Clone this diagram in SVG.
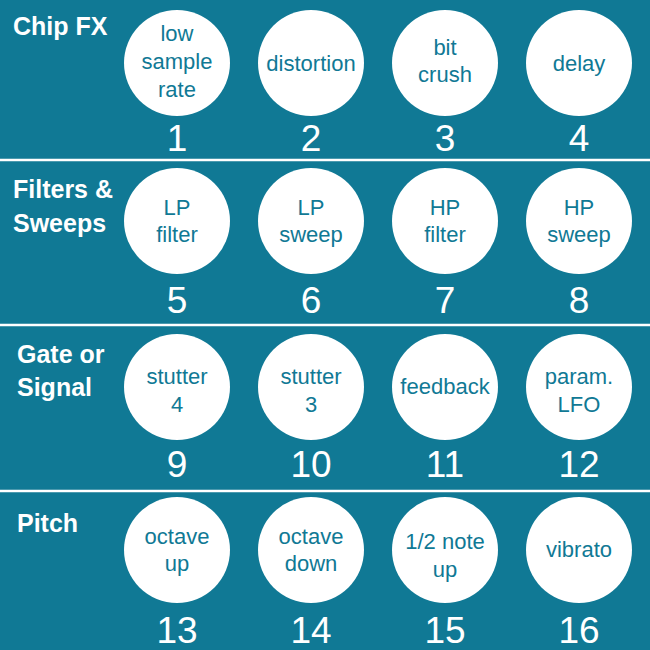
<svg xmlns="http://www.w3.org/2000/svg" width="650" height="650" viewBox="0 0 650 650">
<style>
.bg{fill:#107995}
.sep{stroke:#ffffff;stroke-width:2.5}
.c{fill:#ffffff}
.t{font-family:"Liberation Sans",Arial,sans-serif;font-size:22px;fill:#107995;text-anchor:middle}
.n{font-family:"Liberation Sans",Arial,sans-serif;font-size:37px;fill:#ffffff;text-anchor:middle}
.h{font-family:"Liberation Sans",Arial,sans-serif;font-size:25px;font-weight:bold;fill:#ffffff}
</style>
<rect class="bg" x="0" y="0" width="650" height="650"/>
<g id="separators">
<line class="sep" x1="0" y1="160" x2="650" y2="160"/>
<line class="sep" x1="0" y1="325" x2="650" y2="325"/>
<line class="sep" x1="0" y1="491" x2="650" y2="491"/>
</g>
<g id="headers">
<text class="h" x="13" y="35">Chip FX</text>
<text class="h" x="13" y="198">Filters &amp;</text>
<text class="h" x="13" y="232">Sweeps</text>
<text class="h" x="17" y="363">Gate or</text>
<text class="h" x="17" y="396">Signal</text>
<text class="h" x="17" y="532">Pitch</text>
</g>
<g id="n1"><circle class="c" cx="177" cy="63" r="53"/><text class="t" x="177" y="41">low</text><text class="t" x="177" y="69">sample</text><text class="t" x="177" y="97">rate</text><text class="n" x="177" y="151">1</text></g>
<g id="n2"><circle class="c" cx="311" cy="63" r="53"/><text class="t" x="311" y="71">distortion</text><text class="n" x="311" y="151">2</text></g>
<g id="n3"><circle class="c" cx="445" cy="63" r="53"/><text class="t" x="445" y="55">bit</text><text class="t" x="445" y="82">crush</text><text class="n" x="445" y="151">3</text></g>
<g id="n4"><circle class="c" cx="579" cy="63" r="53"/><text class="t" x="579" y="71">delay</text><text class="n" x="579" y="151">4</text></g>
<g id="n5"><circle class="c" cx="177" cy="221" r="53"/><text class="t" x="177" y="215">LP</text><text class="t" x="177" y="242">filter</text><text class="n" x="177" y="313">5</text></g>
<g id="n6"><circle class="c" cx="311" cy="221" r="53"/><text class="t" x="311" y="215">LP</text><text class="t" x="311" y="242">sweep</text><text class="n" x="311" y="313">6</text></g>
<g id="n7"><circle class="c" cx="445" cy="221" r="53"/><text class="t" x="445" y="215">HP</text><text class="t" x="445" y="242">filter</text><text class="n" x="445" y="313">7</text></g>
<g id="n8"><circle class="c" cx="579" cy="221" r="53"/><text class="t" x="579" y="215">HP</text><text class="t" x="579" y="242">sweep</text><text class="n" x="579" y="313">8</text></g>
<g id="n9"><circle class="c" cx="177" cy="387" r="53"/><text class="t" x="177" y="384">stutter</text><text class="t" x="177" y="412">4</text><text class="n" x="177" y="477">9</text></g>
<g id="n10"><circle class="c" cx="311" cy="387" r="53"/><text class="t" x="311" y="384">stutter</text><text class="t" x="311" y="412">3</text><text class="n" x="311" y="477">10</text></g>
<g id="n11"><circle class="c" cx="445" cy="387" r="53"/><text class="t" x="445" y="394">feedback</text><text class="n" x="445" y="477">11</text></g>
<g id="n12"><circle class="c" cx="579" cy="387" r="53"/><text class="t" x="579" y="384">param.</text><text class="t" x="579" y="412">LFO</text><text class="n" x="579" y="477">12</text></g>
<g id="n13"><circle class="c" cx="177" cy="550" r="53"/><text class="t" x="177" y="544">octave</text><text class="t" x="177" y="571">up</text><text class="n" x="177" y="643">13</text></g>
<g id="n14"><circle class="c" cx="311" cy="550" r="53"/><text class="t" x="311" y="544">octave</text><text class="t" x="311" y="571">down</text><text class="n" x="311" y="643">14</text></g>
<g id="n15"><circle class="c" cx="445" cy="550" r="53"/><text class="t" x="445" y="549">1/2 note</text><text class="t" x="445" y="577">up</text><text class="n" x="445" y="643">15</text></g>
<g id="n16"><circle class="c" cx="579" cy="550" r="53"/><text class="t" x="579" y="557">vibrato</text><text class="n" x="579" y="643">16</text></g>
</svg>
